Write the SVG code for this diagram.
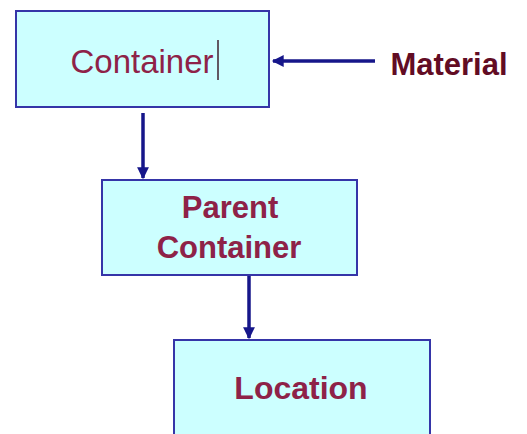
<svg xmlns="http://www.w3.org/2000/svg" width="527" height="434" viewBox="0 0 527 434">
<style>
.box{fill:#ccffff;stroke:#3535a8;stroke-width:2}
.lbl{font-family:"Liberation Sans",Arial,sans-serif;fill:#8e2248;text-anchor:middle}
.b{font-weight:bold}
.con{stroke:#16168a;stroke-width:3.5;fill:none}
</style>
<defs>
<marker id="ah" viewBox="0 0 10 10" refX="9" refY="5" markerWidth="3.6" markerHeight="3.4" orient="auto" markerUnits="strokeWidth">
<path d="M0,0 L10,5 L0,10 z" fill="#16168a"/>
</marker>
</defs>
<rect width="527" height="434" fill="#ffffff"/>
<g id="container">
<rect class="box" x="16" y="11" width="253" height="96"/>
<text class="lbl" x="142" y="73" font-size="33">Container</text>
<line x1="218" y1="40" x2="218" y2="80" stroke="#40202e" stroke-width="1.5"/>
</g>
<g id="material">
<text x="449" y="75" font-family="'Liberation Sans',Arial,sans-serif" font-size="31" font-weight="bold" fill="#620c24" text-anchor="middle">Material</text>
</g>
<g id="parent">
<rect class="box" x="102" y="180" width="255" height="95"/>
<text class="lbl b" x="230" y="218" font-size="31">Parent</text>
<text class="lbl b" x="229" y="258" font-size="31">Container</text>
</g>
<g id="location">
<rect class="box" x="174" y="340" width="256" height="100"/>
<text class="lbl b" x="301" y="399" font-size="32">Location</text>
</g>
<g id="connectors">
<line class="con" x1="375" y1="61" x2="273" y2="61" marker-end="url(#ah)"/>
<line class="con" x1="143" y1="113" x2="143" y2="178" marker-end="url(#ah)"/>
<line class="con" x1="249" y1="276" x2="249" y2="338" marker-end="url(#ah)"/>
</g>
</svg>
